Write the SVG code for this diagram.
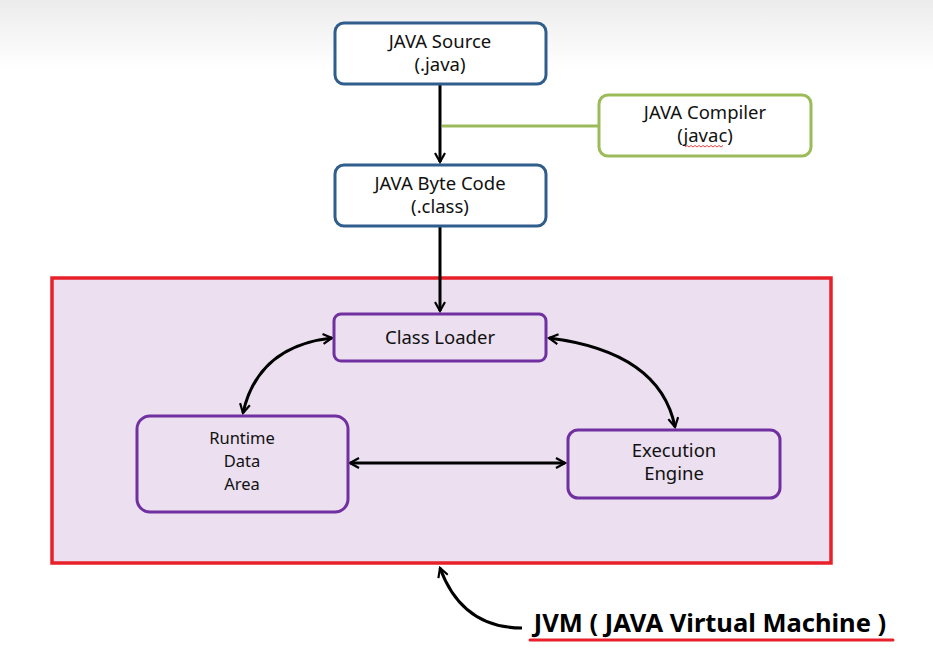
<svg xmlns="http://www.w3.org/2000/svg" width="933" height="660" viewBox="0 0 933 660">
<defs>
<linearGradient id="bg" x1="0" y1="0" x2="0" y2="1">
<stop offset="0" stop-color="#ececec"/>
<stop offset="1" stop-color="#ffffff"/>
</linearGradient>
<marker id="arr" viewBox="0 0 12 12" refX="10" refY="6" markerWidth="12" markerHeight="12" markerUnits="userSpaceOnUse" orient="auto-start-reverse">
<path d="M1 1 L10 6 L1 11" fill="none" stroke="#000" stroke-width="2.2"/>
</marker>
<style>
text{font-family:"Noto Sans","Open Sans","Liberation Sans",sans-serif;font-size:18.5px;fill:#111;text-anchor:middle}
.sm{font-size:16.5px}
.blue{fill:#fff;stroke:#2f5d8c;stroke-width:3}
.green{fill:#fff;stroke:#9bbb59;stroke-width:3}
.purple{fill:#ebdff0;stroke:#7030a0;stroke-width:3}
.conn{fill:none;stroke:#000;stroke-width:3}
</style>
</defs>
<rect x="0" y="0" width="933" height="660" fill="#fff"/>
<rect x="0" y="0" width="933" height="70" fill="url(#bg)"/>

<g id="jvm-frame">
<rect x="52" y="278" width="779" height="285" fill="#ebdff0" stroke="#e8202a" stroke-width="3.5"/>
</g>

<g id="connectors">
<line class="conn" x1="440" y1="84" x2="440" y2="162" marker-end="url(#arr)"/>
<line x1="442" y1="126" x2="599" y2="126" stroke="#9bbb59" stroke-width="3"/>
<line class="conn" x1="440" y1="226" x2="440" y2="311" marker-end="url(#arr)"/>
<path class="conn" d="M332 338 Q258 346 243 413" marker-start="url(#arr)" marker-end="url(#arr)"/>
<path class="conn" d="M549 338 Q660 352 675 427" marker-start="url(#arr)" marker-end="url(#arr)"/>
<line class="conn" x1="350" y1="463" x2="565" y2="463" marker-start="url(#arr)" marker-end="url(#arr)"/>
<path class="conn" d="M522 628 Q462 628 440 568" marker-end="url(#arr)"/>
</g>

<g id="java-source">
<rect class="blue" x="335" y="23" width="211" height="61" rx="9"/>
<text x="440" y="48">JAVA Source</text>
<text x="440" y="71">(.java)</text>
</g>

<g id="java-compiler">
<rect class="green" x="599" y="95" width="212" height="61" rx="9"/>
<text x="705" y="119">JAVA Compiler</text>
<text x="705" y="142">(javac)</text>
<path d="M685 147 l2 -1.5 l2 1.5 l2 -1.5 l2 1.5 l2 -1.5 l2 1.5 l2 -1.5 l2 1.5 l2 -1.5 l2 1.5 l2 -1.5 l2 1.5 l2 -1.5 l2 1.5 l2 -1.5 l2 1.5 l2 -1.5 l2 1.5 l2 -1.5" fill="none" stroke="#e03030" stroke-width="0.9"/>
</g>

<g id="byte-code">
<rect class="blue" x="335" y="165" width="211" height="61" rx="9"/>
<text x="440" y="190">JAVA Byte Code</text>
<text x="440" y="213">(.class)</text>
</g>

<g id="class-loader">
<rect class="purple" x="334" y="314" width="212" height="47" rx="7"/>
<text x="440" y="344">Class Loader</text>
</g>

<g id="runtime-data-area">
<rect class="purple" x="137" y="416" width="211" height="96" rx="13"/>
<text class="sm" x="242" y="444">Runtime</text>
<text class="sm" x="242" y="467">Data</text>
<text class="sm" x="242" y="490">Area</text>
</g>

<g id="execution-engine">
<rect class="purple" x="568" y="430" width="212" height="68" rx="10"/>
<text x="674" y="457">Execution</text>
<text x="674" y="480">Engine</text>
</g>

<g id="jvm-label">
<text x="710" y="632" style="font-size:25.5px;font-weight:bold;fill:#000">JVM ( JAVA Virtual Machine )</text>
<line x1="530" y1="640" x2="893" y2="640" stroke="#e8202a" stroke-width="3" stroke-linecap="round"/>
</g>
</svg>
